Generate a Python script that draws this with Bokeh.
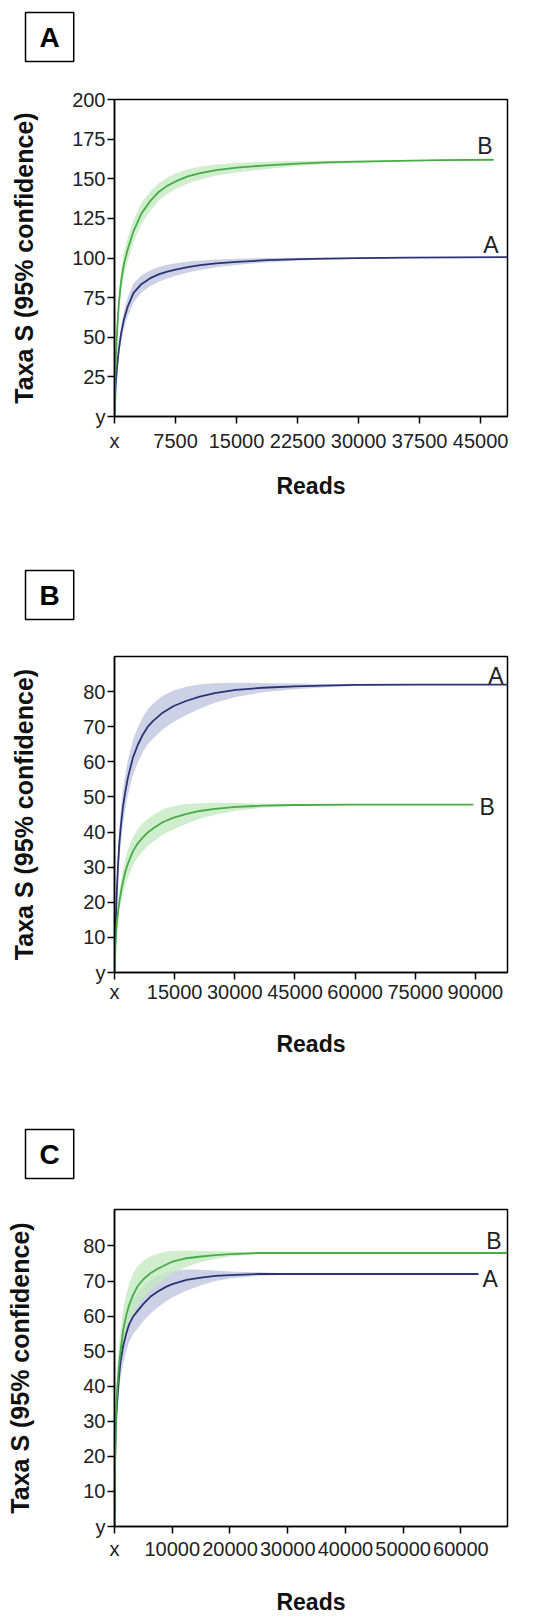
from bokeh.plotting import figure
from bokeh.layouts import column
from bokeh.models import Label, FixedTicker, Range1d, Title
from bokeh.embed import file_html
from bokeh.resources import INLINE

FONT = "Liberation Sans"
GREEN_LINE = "#46ad46"
GREEN_BAND = "#c4e9c1"
BLUE_LINE = "#2a3375"
BLUE_BAND = "#bfc6e0"

Y_LABEL = "Taxa S (95% confidence)"
X_LABEL = "Reads"
PANEL_NAMES = ["A", "B", "C"]
SERIES_NAMES = ["A", "B"]

# ---------------- Panel A ----------------
pa_xticks = [0, 7500, 15000, 22500, 30000, 37500, 45000]
pa_yticks = [0, 25, 50, 75, 100, 125, 150, 175, 200]
pa_xmax, pa_ymax = 48300, 200

pa_B_reads = [0, 150, 330, 530, 800, 1150, 1600, 2340, 3300, 4400, 5500, 6480, 7500, 9000, 10530,
              12500, 15000, 18700, 22500, 26000, 30000, 35000, 40000, 46600]
pa_B_mean = [0, 35, 55, 71, 85, 96, 105, 117, 128, 136, 142, 145.5, 148.3, 151.5, 153.5,
             155.5, 157, 158.5, 159.6, 160.3, 160.8, 161.3, 161.7, 162]
pa_B_lo = [0, 32, 50, 65, 78, 88.5, 97.5, 110, 121.5, 130, 136.5, 140.3, 143.3, 147, 149.5,
           152, 154, 156.2, 158, 159.2, 160.1, 160.9, 161.5, 162]
pa_B_hi = [0, 38, 60, 77, 92, 103.5, 112.5, 124, 134.5, 142, 147.5, 150.7, 153.3, 156, 157.5,
           159, 160, 160.8, 161.2, 161.4, 161.5, 161.7, 161.9, 162]

pa_A_reads = [0, 150, 330, 530, 800, 1150, 1600, 2340, 3300, 4400, 5500, 6480, 7500, 9000, 10530,
              12500, 15000, 18700, 22900, 26000, 30000, 36000, 42000, 48300]
pa_A_mean = [0, 20, 32, 42, 52, 61, 69, 78, 83.5, 87.3, 89.8, 91.4, 92.7, 94.3, 95.5,
             96.6, 97.6, 98.6, 99.3, 99.6, 99.9, 100.2, 100.4, 100.5]
pa_A_lo = [0, 18, 29, 38, 47, 55.5, 63, 72, 78, 82.3, 85.1, 87, 88.7, 90.8, 92.5,
           94.1, 95.6, 97.2, 98.4, 99, 99.6, 100, 100.3, 100.5]
pa_A_hi = [0, 22, 35, 46, 57, 66.5, 75, 84, 89, 92.3, 94.5, 95.8, 96.7, 97.8, 98.5,
           99.1, 99.6, 100, 100.2, 100.2, 100.2, 100.4, 100.5, 100.5]

# ---------------- Panel B ----------------
pb_xticks = [0, 15000, 30000, 45000, 60000, 75000, 90000]
pb_yticks = [0, 10, 20, 30, 40, 50, 60, 70, 80]
pb_xmax, pb_ymax = 98000, 90

pb_A_reads = [0, 300, 580, 900, 1250, 1650, 2085, 2700, 3340, 4590, 5800, 7090, 8300, 9590, 12000,
              14770, 18000, 21270, 25000, 30280, 37000, 45000, 52000, 60000, 75000, 98000]
pb_A_mean = [0, 14, 23, 31, 37.5, 42.5, 47, 51.5, 55.5, 61.2, 64.8, 67.8, 70, 71.6, 74,
             75.9, 77.4, 78.6, 79.6, 80.5, 81.1, 81.5, 81.7, 81.9, 82, 82]
pb_A_lo = [0, 12, 20, 27, 33, 37.5, 42, 46.5, 50.5, 56.2, 59.8, 62.8, 65, 66.6, 69.2,
           71.4, 73.4, 75.1, 76.8, 78.5, 79.8, 80.7, 81.2, 81.6, 81.9, 82]
pb_A_hi = [0, 16, 26, 35, 42, 47.5, 52, 56.5, 60.5, 66.2, 69.8, 72.8, 75, 76.6, 78.8,
           80.4, 81.4, 82.1, 82.4, 82.5, 82.4, 82.3, 82.2, 82.2, 82.1, 82]

pb_B_reads = [0, 300, 580, 900, 1250, 1650, 2085, 2700, 3340, 4590, 5800, 7090, 8300, 9590, 12000,
              14770, 18000, 21270, 25000, 30280, 37000, 45000, 60000, 75000, 89500]
pb_B_mean = [0, 9, 14, 17.5, 20.5, 23.2, 25.7, 28.7, 31, 34.5, 36.8, 38.5, 39.9, 41, 42.8,
             44.1, 45.2, 46, 46.6, 47.2, 47.5, 47.7, 47.8, 47.8, 47.8]
pb_B_lo = [0, 8, 12.5, 15.5, 18, 20.2, 22.2, 25, 27, 30.5, 32.8, 34.5, 36, 37.2, 39.2,
           40.8, 42.4, 43.8, 44.9, 46.1, 46.9, 47.4, 47.7, 47.8, 47.8]
pb_B_hi = [0, 10, 15.5, 19.5, 23, 26.2, 29.2, 32.4, 35, 38.5, 40.8, 42.5, 43.8, 44.8, 46.4,
           47.4, 48, 48.2, 48.3, 48.3, 48.1, 48, 47.9, 47.8, 47.8]

# ---------------- Panel C ----------------
pc_xticks = [0, 10000, 20000, 30000, 40000, 50000, 60000]
pc_yticks = [0, 10, 20, 30, 40, 50, 60, 70, 80]
pc_xmax, pc_ymax = 68070, 90.4

pc_B_reads = [0, 100, 200, 350, 500, 750, 1000, 1500, 2000, 2500, 3200, 4000, 5000, 6200, 7500,
              9000, 10000, 12500, 15000, 17500, 20000, 25000, 30000, 40000, 68070]
pc_B_mean = [0, 18, 28, 35, 40, 45.5, 49.5, 56, 60, 63, 66, 68.5, 70.5, 72.2, 73.5,
             74.7, 75.5, 76.5, 77, 77.4, 77.7, 78, 78, 78, 78]
pc_B_lo = [0, 16, 25.5, 31.5, 35.5, 40, 43.5, 50, 54, 57, 60, 62.8, 65.2, 67.4, 69.2,
           71, 72.2, 74.1, 75.4, 76.3, 77, 77.7, 77.9, 78, 78]
pc_B_hi = [0, 20, 30.5, 38.5, 44.5, 51, 55.5, 62, 66, 69, 72, 74.2, 75.8, 77, 77.8,
           78.4, 78.6, 78.7, 78.6, 78.5, 78.4, 78.2, 78.1, 78, 78]

pc_A_reads = [0, 100, 200, 350, 500, 750, 1000, 1500, 2000, 2500, 3200, 4000, 5000, 6200, 7500,
              9000, 10000, 12500, 15000, 17500, 20000, 25000, 30000, 40000, 63050]
pc_A_mean = [0, 18, 27, 32.5, 36.5, 42, 46.5, 51.5, 54.8, 57.5, 59.8, 61.5, 63.5, 65.5, 67,
             68.4, 69.1, 70.3, 71, 71.5, 71.7, 72, 72, 72, 72]
pc_A_lo = [0, 16, 24.5, 29.5, 33, 38, 42, 46.5, 49.8, 52.5, 54.8, 56.5, 58.5, 60.7, 62.5,
           64.3, 65.3, 67.3, 68.8, 70, 70.7, 71.5, 71.8, 72, 72]
pc_A_hi = [0, 20, 29.5, 35.5, 40, 46, 51, 56.5, 59.8, 62.5, 64.8, 66.5, 68.5, 70.3, 71.5,
           72.5, 72.9, 73.3, 73.2, 73, 72.7, 72.5, 72.2, 72, 72]

W = 549
BORDER_L, BORDER_R, BORDER_T = 114, 42, 99


def make_panel(name, height, frame_h, xmax, ymax, xticks, yticks, series, labels,
               x_std, x_lab_std, y_lab_std, gap):
    p = figure(width=W, height=height, output_backend="svg", toolbar_location=None,
               x_range=Range1d(0, xmax), y_range=Range1d(0, ymax),
               min_border_left=BORDER_L, min_border_right=BORDER_R,
               min_border_top=BORDER_T, min_border_bottom=height - BORDER_T - frame_h)
    p.grid.visible = False
    p.outline_line_color = "black"
    p.outline_line_width = 1.5
    p.background_fill_color = "white"
    p.border_fill_color = "white"

    # empty spacer between the frame and the boxed panel letter
    p.add_layout(Title(text=" ", text_font_size="1px", standoff=gap), "above")
    # boxed panel letter
    p.add_layout(Title(text=name, align="left", offset=-89, standoff=0,
                       text_font=FONT, text_font_size="28px", text_font_style="bold",
                       text_color="black", background_fill_color="white",
                       border_line_color="black", border_line_width=1.5,
                       padding=dict(left=14, right=14, top=9, bottom=9)), "above")

    # bands first, then lines
    for reads, mean, lo, hi, band, line in series:
        p.varea(x=reads, y1=lo, y2=hi, fill_color=band, fill_alpha=0.8)
    for reads, mean, lo, hi, band, line in series:
        p.line(x=reads, y=mean, line_color=line, line_width=1.8)

    for ax, ticks, std, zero in ((p.xaxis[0], xticks, x_std, "x"), (p.yaxis[0], yticks, 2, "y")):
        ax.ticker = FixedTicker(ticks=ticks)
        ax.major_label_overrides = {0: zero}
        ax.minor_tick_line_color = None
        ax.major_tick_in = 0
        ax.major_tick_out = 7
        ax.major_tick_line_width = 1.5
        ax.axis_line_width = 1.5
        ax.major_label_text_font = FONT
        ax.major_label_text_font_size = "20px"
        ax.major_label_text_color = "#222222"
        ax.major_label_standoff = std
        ax.axis_label_text_font = FONT
        ax.axis_label_text_font_style = "bold"
        ax.axis_label_text_color = "#111111"
    p.xaxis.axis_label = X_LABEL
    p.yaxis.axis_label = Y_LABEL
    p.xaxis.axis_label_text_font_size = "23px"
    p.yaxis.axis_label_text_font_size = "25px"
    p.xaxis.axis_label_standoff = x_lab_std
    p.yaxis.axis_label_standoff = y_lab_std

    # curve end labels
    for text, x, y, align, base, dx, dy in labels:
        p.add_layout(Label(x=x, y=y, text=text, text_align=align, text_baseline=base,
                           x_offset=dx, y_offset=dy, text_font=FONT,
                           text_font_size="23px", text_color="#222222"))
    return p


pA = make_panel(
    PANEL_NAMES[0], 557, 317, pa_xmax, pa_ymax, pa_xticks, pa_yticks,
    [(pa_A_reads, pa_A_mean, pa_A_lo, pa_A_hi, BLUE_BAND, BLUE_LINE),
     (pa_B_reads, pa_B_mean, pa_B_lo, pa_B_hi, GREEN_BAND, GREEN_LINE)],
    [(SERIES_NAMES[1], pa_B_reads[-1], pa_B_mean[-1], "right", "alphabetic", -1, 14),
     (SERIES_NAMES[0], pa_A_reads[-1], pa_A_mean[-1], "right", "alphabetic", -9, 12)],
    6, 18, 31, 35)

pB = make_panel(
    PANEL_NAMES[1], 553, 316, pb_xmax, pb_ymax, pb_xticks, pb_yticks,
    [(pb_A_reads, pb_A_mean, pb_A_lo, pb_A_hi, BLUE_BAND, BLUE_LINE),
     (pb_B_reads, pb_B_mean, pb_B_lo, pb_B_hi, GREEN_BAND, GREEN_LINE)],
    [(SERIES_NAMES[0], pb_A_reads[-1], pb_A_mean[-1], "right", "alphabetic", -4, 9),
     (SERIES_NAMES[1], pb_B_reads[-1], pb_B_mean[-1], "left", "middle", 6, -2)],
    1, 25, 42, 34)

pC = make_panel(
    PANEL_NAMES[2], 509, 317, pc_xmax, pc_ymax, pc_xticks, pc_yticks,
    [(pc_A_reads, pc_A_mean, pc_A_lo, pc_A_hi, BLUE_BAND, BLUE_LINE),
     (pc_B_reads, pc_B_mean, pc_B_lo, pc_B_hi, GREEN_BAND, GREEN_LINE)],
    [(SERIES_NAMES[1], pc_B_reads[-1], pc_B_mean[-1], "right", "alphabetic", -6, 12),
     (SERIES_NAMES[0], pc_A_reads[-1], pc_A_mean[-1], "left", "middle", 4, -5)],
    4, 26, 46, 28)

layout = column(pA, pB, pC, spacing=0)
open("out.html", "w").write(file_html(layout, INLINE))
